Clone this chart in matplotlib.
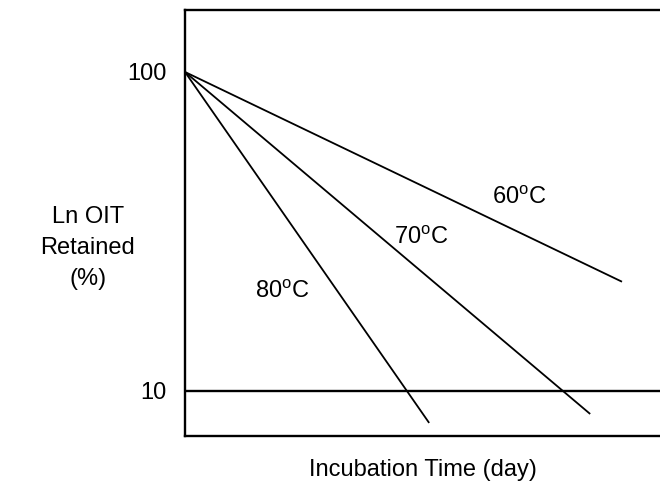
import matplotlib
matplotlib.use("Agg")
import matplotlib.pyplot as plt

plt.rcParams['font.family'] = ['Liberation Sans', 'DejaVu Sans']
plt.rcParams['mathtext.fontset'] = 'custom'
plt.rcParams['mathtext.rm'] = 'Liberation Sans'
plt.rcParams['mathtext.it'] = 'Liberation Sans'

# Data (arbitrary day units; log-scale retained OIT)
series_labels = ["60$^{\\mathrm{o}}$C", "70$^{\\mathrm{o}}$C", "80$^{\\mathrm{o}}$C"]
start_x = [0, 0, 0]
start_y = [100, 100, 100]
end_x = [92.0, 85.3, 51.4]
end_y = [22.0, 8.47, 7.94]
label_x = [70.3, 49.7, 20.4]
label_y = [40.3, 30.2, 20.4]
ref_level = 10
yticks = [10, 100]
ytick_labels = ["10", "100"]

fig = plt.figure(figsize=(6.6, 4.91), dpi=100)
ax = fig.add_axes([185/660, 1-436/491, 1-185/660, (436-10)/491])

for sx, sy, ex, ey in zip(start_x, start_y, end_x, end_y):
    ax.plot([sx, ex], [sy, ey], color='black', lw=1.3, solid_capstyle='butt')
ax.axhline(ref_level, color='black', lw=1.7)

for lab, lx, ly in zip(series_labels, label_x, label_y):
    ax.text(lx, ly, lab, fontsize=17, ha='center', va='center')

ax.set_yscale('log')
ax.set_xlim(0, 100)
ax.set_ylim(7.225, 156.4)
ax.set_yticks(yticks)
ax.set_yticklabels(ytick_labels)
ax.yaxis.set_minor_locator(matplotlib.ticker.NullLocator())
ax.tick_params(axis='y', length=0, pad=13, labelsize=17)
ax.set_xticks([])
for s in ['left', 'top', 'bottom']:
    ax.spines[s].set_linewidth(1.7)
ax.spines['right'].set_visible(False)

fig.text(88/660, 1-248/491, "Ln OIT\nRetained\n(%)", fontsize=17, ha='center', va='center', linespacing=1.55)
fig.text(423/660, 1-470/491, "Incubation Time (day)", fontsize=17, ha='center', va='center')

fig.savefig("out.png", dpi=100)
